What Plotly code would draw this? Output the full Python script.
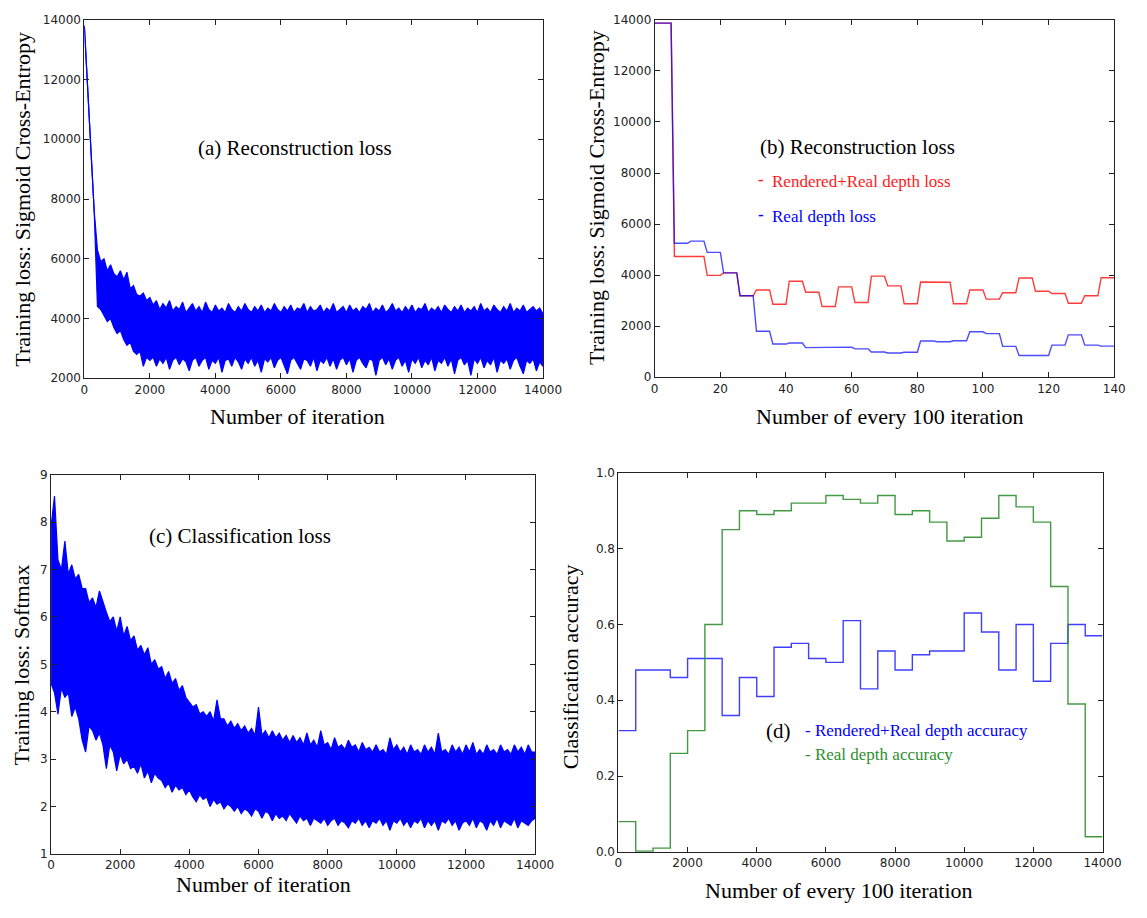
import plotly.graph_objects as go

# ---------------- DATA ----------------
# (a) reconstruction loss: upper / lower edge of the noisy band, read every 100 iterations
a_iter = list(range(0, 14001, 100))
a_upper = [13800, 11700, 9400, 7600, 6300, 5900, 6000, 5600, 5800, 5500,
           5400, 5600, 5300, 5550, 5000, 5100, 4800, 4750, 4850, 4600,
           4700, 4450, 4600, 4300, 4500, 4350, 4600, 4250, 4400, 4300,
           4550, 4200, 4350, 4500, 4250, 4400, 4200, 4550, 4300, 4200,
           4450, 4250, 4350, 4200, 4500, 4300, 4200, 4400, 4250, 4500,
           4300, 4200, 4400, 4250, 4450, 4200, 4350, 4250, 4500, 4300,
           4200, 4400, 4250, 4450, 4200, 4350, 4300, 4500, 4200, 4400,
           4250, 4300, 4450, 4200, 4350, 4250, 4500, 4200, 4300, 4400,
           4200, 4450, 4250, 4350, 4200, 4400, 4300, 4500, 4200, 4350,
           4250, 4450, 4200, 4300, 4500, 4250, 4350, 4200, 4400, 4250,
           4450, 4200, 4350, 4300, 4500, 4200, 4350, 4250, 4400, 4200,
           4450, 4300, 4200, 4400, 4250, 4450, 4200, 4350, 4250, 4400,
           4200, 4500, 4250, 4350, 4200, 4450, 4300, 4200, 4400, 4250,
           4500, 4200, 4350, 4250, 4450, 4200, 4300, 4400, 4250, 4350,
           4150]
a_lower = [13800, 11700, 9400, 7600, 4400, 4300, 4100, 3900, 4000, 3700,
           3500, 3600, 3300, 3100, 3200, 2900, 2800, 2900, 2400, 2700,
           2600, 2700, 2400, 2650, 2500, 2700, 2300, 2600, 2700, 2450,
           2650, 2550, 2250, 2600, 2700, 2400, 2600, 2700, 2300, 2600,
           2500, 2700, 2200, 2600, 2650, 2400, 2700, 2550, 2300, 2650,
           2500, 2700, 2400, 2600, 2200, 2650, 2550, 2700, 2350, 2600,
           2700, 2450, 2150, 2600, 2700, 2500, 2300, 2650, 2600, 2400,
           2700, 2250, 2600, 2500, 2700, 2400, 2650, 2300, 2600, 2700,
           2450, 2650, 2200, 2600, 2700, 2500, 2350, 2650, 2600, 2100,
           2600, 2700, 2450, 2650, 2300, 2600, 2700, 2400, 2600, 2200,
           2650, 2500, 2700, 2350, 2600, 2450, 2700, 2250, 2600, 2500,
           2700, 2400, 2650, 2150, 2600, 2700, 2450, 2600, 2100, 2650,
           2500, 2700, 2350, 2600, 2450, 2700, 2200, 2600, 2500, 2650,
           2300, 2600, 2700, 2400, 2150, 2600, 2500, 2650, 2250, 2550,
           2400]

# (b) reconstruction loss, one value per block of 5 (x 0..140)
b_blocks = list(range(28))
b_rendered_real = [13870, 4730, 4730, 3990, 4090, 3190, 3420, 2860, 3760, 3330, 2770, 3540, 2930, 3960,
                   3580, 2880, 3730, 3720, 2880, 3420, 3060, 3310, 3890, 3370, 3280, 2900, 3190, 3900]
b_real = [13870, 5250, 5330, 4890, 4090, 3190, 1800, 1300, 1340, 1160, 1180, 1180, 1110, 990,
          950, 980, 1420, 1390, 1430, 1780, 1710, 1210, 850, 850, 1260, 1660, 1260, 1220]

# (c) classification loss: upper / lower edge of the noisy band, read every 100 iterations
c_iter = list(range(0, 14001, 100))
c_upper = [7.9, 8.55, 7.2, 7.0, 7.6, 6.9, 7.1, 6.8, 6.9, 6.6,
           6.6, 6.3, 6.4, 6.2, 6.55, 6.3, 6.1, 5.9, 6.0, 5.7,
           6.0, 5.6, 5.8, 5.5, 5.6, 5.3, 5.4, 5.2, 5.35, 5.0,
           5.1, 4.9, 4.95, 4.7, 4.85, 4.6, 4.7, 4.45, 4.55, 4.3,
           4.2, 4.1, 4.15, 3.95, 4.0, 3.9, 4.0, 3.8, 4.25, 3.85,
           3.85, 3.7, 3.8, 3.65, 3.75, 3.6, 3.7, 3.55, 3.65, 3.5,
           4.1, 3.5, 3.6, 3.45, 3.6, 3.45, 3.55, 3.4, 3.5, 3.35,
           3.5, 3.35, 3.45, 3.3, 3.55, 3.3, 3.4, 3.25, 3.6, 3.3,
           3.35, 3.2, 3.45, 3.25, 3.3, 3.2, 3.4, 3.25, 3.3, 3.15,
           3.35, 3.2, 3.25, 3.15, 3.3, 3.15, 3.2, 3.1, 3.45, 3.2,
           3.3, 3.15, 3.25, 3.1, 3.3, 3.15, 3.2, 3.1, 3.3, 3.15,
           3.25, 3.1, 3.55, 3.15, 3.2, 3.1, 3.3, 3.15, 3.25, 3.1,
           3.3, 3.15, 3.35, 3.1, 3.2, 3.1, 3.3, 3.15, 3.2, 3.1,
           3.3, 3.15, 3.2, 3.1, 3.3, 3.15, 3.25, 3.1, 3.3, 3.15,
           3.15]
c_lower = [4.6, 4.4, 3.95, 4.5, 4.3, 4.4, 3.9, 4.1, 3.85, 3.4,
           3.15, 3.7, 3.6, 3.4, 3.55, 3.3, 2.8, 3.3, 3.15, 2.75,
           3.1, 2.9, 3.0, 2.8, 2.85, 2.7, 2.9, 2.6, 2.75, 2.5,
           2.7, 2.6, 2.55, 2.4, 2.5, 2.3, 2.45, 2.35, 2.4, 2.25,
           2.35, 2.2, 2.1, 2.25, 2.15, 2.2, 2.0, 2.15, 2.05, 2.1,
           1.95, 2.05, 2.0, 1.9, 2.0, 1.85, 1.95, 1.9, 1.8, 1.95,
           1.9, 1.75, 1.9, 1.85, 1.7, 1.85, 1.75, 1.8, 1.7, 1.85,
           1.75, 1.65, 1.8, 1.7, 1.75, 1.6, 1.75, 1.7, 1.65, 1.75,
           1.6, 1.7, 1.75, 1.6, 1.7, 1.65, 1.55, 1.7, 1.65, 1.75,
           1.6, 1.7, 1.55, 1.7, 1.65, 1.75, 1.6, 1.7, 1.5, 1.7,
           1.65, 1.75, 1.6, 1.7, 1.55, 1.7, 1.65, 1.75, 1.55, 1.7,
           1.6, 1.7, 1.5, 1.7, 1.65, 1.75, 1.6, 1.7, 1.5, 1.65,
           1.7, 1.6, 1.75, 1.55, 1.7, 1.65, 1.5, 1.7, 1.6, 1.75,
           1.55, 1.7, 1.65, 1.6, 1.75, 1.55, 1.7, 1.65, 1.6, 1.7,
           1.75]

# (d) classification accuracy, bins of 500 iterations
d_edges = list(range(0, 14001, 500))
d_rendered_real = [0.32, 0.48, 0.48, 0.46, 0.51, 0.51, 0.36, 0.46, 0.41, 0.54, 0.55, 0.51, 0.50, 0.61,
                   0.43, 0.53, 0.48, 0.52, 0.53, 0.53, 0.63, 0.58, 0.48, 0.60, 0.45, 0.55, 0.60, 0.57]
d_real = [0.08, 0.002, 0.01, 0.26, 0.32, 0.60, 0.85, 0.90, 0.89, 0.90, 0.92, 0.92, 0.94, 0.93,
          0.92, 0.94, 0.89, 0.90, 0.87, 0.82, 0.83, 0.88, 0.94, 0.91, 0.87, 0.70, 0.39, 0.04]

assert len(a_upper) == len(a_lower) == len(a_iter)
assert len(c_upper) == len(c_lower) == len(c_iter)

# ---------------- LAYOUT HELPERS ----------------
W, H = 1147, 918
BLUE = "#0000ff"
RED = "#ff1a1a"
GREEN = "#2f8f2f"
SERIF = "Liberation Serif, Times New Roman, serif"
SANS = "DejaVu Sans, sans-serif"


def px_dom_x(l, r):
    return [l / W, r / W]


def px_dom_y(t, b):
    return [1 - b / H, 1 - t / H]


def block_xy(vals):
    xs, ys = [], []
    for i, v in zip(b_blocks, vals):
        start = 0 if i == 0 else 5 * i + 1
        xs += [start, 5 * i + 5]
        ys += [v, v]
    return xs, ys


fig = go.Figure()

# (a)
fig.add_trace(go.Scatter(x=a_iter, y=a_upper, mode="lines", line=dict(color=BLUE, width=1.2),
                         xaxis="x", yaxis="y", showlegend=False))
fig.add_trace(go.Scatter(x=a_iter, y=a_lower, mode="lines", line=dict(color=BLUE, width=1.2),
                         fill="tonexty", fillcolor=BLUE, xaxis="x", yaxis="y", showlegend=False))

# (b)
bx, by = block_xy(b_rendered_real)
fig.add_trace(go.Scatter(x=bx, y=by, mode="lines", line=dict(color=RED, width=1.4), opacity=0.85,
                         xaxis="x2", yaxis="y2", showlegend=False))
bx2, by2 = block_xy(b_real)
fig.add_trace(go.Scatter(x=bx2, y=by2, mode="lines", line=dict(color=BLUE, width=1.4), opacity=0.7,
                         xaxis="x2", yaxis="y2", showlegend=False))

# (c)
fig.add_trace(go.Scatter(x=c_iter, y=c_upper, mode="lines", line=dict(color=BLUE, width=1.2),
                         xaxis="x3", yaxis="y3", showlegend=False))
fig.add_trace(go.Scatter(x=c_iter, y=c_lower, mode="lines", line=dict(color=BLUE, width=1.2),
                         fill="tonexty", fillcolor=BLUE, xaxis="x3", yaxis="y3", showlegend=False))

# (d)
fig.add_trace(go.Scatter(x=d_edges, y=d_rendered_real + [d_rendered_real[-1]], mode="lines",
                         line=dict(color=BLUE, width=1.4, shape="hv"), opacity=0.75,
                         xaxis="x4", yaxis="y4", showlegend=False))
fig.add_trace(go.Scatter(x=d_edges, y=d_real + [d_real[-1]], mode="lines",
                         line=dict(color=GREEN, width=1.4, shape="hv"), opacity=0.9,
                         xaxis="x4", yaxis="y4", showlegend=False))

axis_common = dict(showgrid=False, zeroline=False, showline=True, linecolor="#222", linewidth=1,
                   mirror="allticks", ticks="inside", ticklen=5, tickcolor="#222", tickwidth=1,
                   tickfont=dict(family=SANS, size=12, color="#222"))

fig.update_layout(
    width=W, height=H, margin=dict(l=0, r=0, t=0, b=0),
    paper_bgcolor="white", plot_bgcolor="white",
    xaxis=dict(domain=px_dom_x(82, 550), range=[0, 14000], dtick=2000, tickformat="d", anchor="y",
               **axis_common),
    yaxis=dict(domain=px_dom_y(13, 377), range=[2000, 14000], dtick=2000, tickformat="d", anchor="x",
               **axis_common),
    xaxis2=dict(domain=px_dom_x(664, 1133), range=[0, 140], dtick=20, tickformat="d", anchor="y2",
                **axis_common),
    yaxis2=dict(domain=px_dom_y(13, 376), range=[0, 14000], dtick=2000, tickformat="d", anchor="x2",
                **axis_common),
    xaxis3=dict(domain=px_dom_x(48, 542), range=[0, 14000], dtick=2000, tickformat="d", anchor="y3",
                **axis_common),
    yaxis3=dict(domain=px_dom_y(475, 860), range=[1, 9], dtick=1, tickformat="d", anchor="x3",
                **axis_common),
    xaxis4=dict(domain=px_dom_x(627, 1121), range=[0, 14000], dtick=2000, tickformat="d", anchor="y4",
                **axis_common),
    yaxis4=dict(domain=px_dom_y(473, 858), range=[0, 1], dtick=0.2, tickformat=".1f", anchor="x4",
                **axis_common),
)


def ann(text, x, y, size, color="black", xanchor="center", angle=0, family=SERIF):
    fig.add_annotation(text=text, x=x / W, y=1 - y / H, xref="paper", yref="paper",
                       xanchor=xanchor, yanchor="middle", showarrow=False, textangle=angle,
                       font=dict(family=family, size=size, color=color))


# panel labels
ann("(a) Reconstruction loss", 297, 143, 21)
ann("(b) Reconstruction loss", 871, 142, 21)
ann("<b>-</b>", 772, 175, 17, RED)
ann("Rendered+Real depth loss", 782, 177, 17, RED, xanchor="left")
ann("<b>-</b>", 772, 211, 17, BLUE)
ann("Real depth loss", 782, 213, 17, BLUE, xanchor="left")
ann("(c) Classification loss", 241, 537, 21)
ann("(d)", 790, 735, 21)
ann("- Rendered+Real depth accuracy", 815, 735, 17, BLUE, xanchor="left")
ann("- Real depth accuracy", 815, 759, 17, GREEN, xanchor="left")

# axis titles
ann("Number of iteration", 300, 416, 22)
ann("Training loss: Sigmoid Cross-Entropy", 18, 195, 22, angle=-90)
ann("Number of every 100 iteration", 904, 416, 22)
ann("Training loss: Sigmoid Cross-Entropy", 604, 193, 22, angle=-90)
ann("Number of iteration", 265, 891, 22)
ann("Training loss: Softmax", 18, 668, 22, angle=-90)
ann("Number of every 100 iteration", 852, 897, 22)
ann("Classification accuracy", 578, 670, 22, angle=-90)

fig.write_html("out.html")
